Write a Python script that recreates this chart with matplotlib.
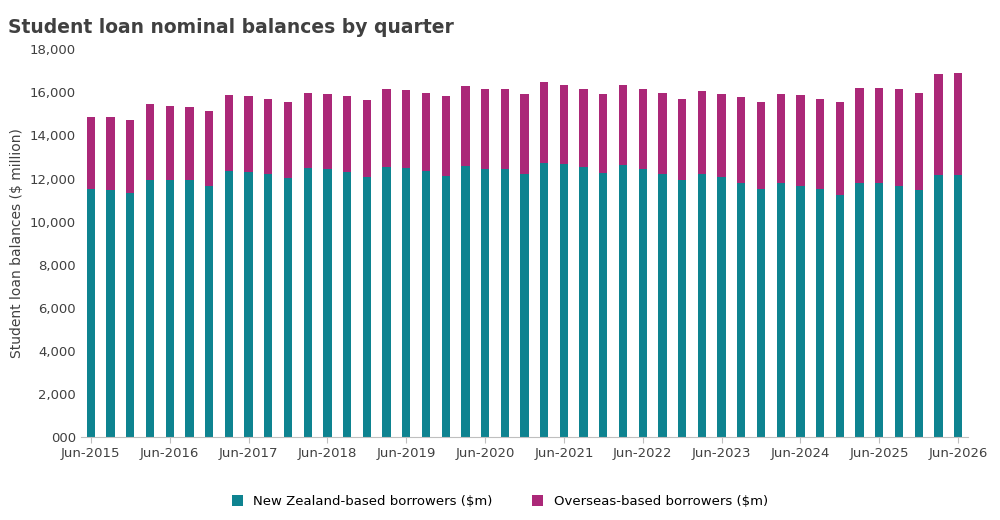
import matplotlib
matplotlib.use("Agg")
import matplotlib.pyplot as plt
import numpy as np

totals = [14.87,14.87,14.71,15.44,15.38,15.32,15.15,15.87,15.83,15.71,15.55,15.98,15.92,15.83,15.64,16.15,16.11,15.98,15.83,16.29,16.15,16.15,15.92,
          16.50,16.34,16.17,15.94,16.34,16.17,15.98,15.71,16.06,15.94,15.78,15.55,15.94,15.87,15.71,15.55,16.22,16.22,16.17,15.98,16.84,16.91]
nz = [11.52,11.46,11.33,11.95,11.91,11.91,11.67,12.34,12.29,12.19,12.03,12.47,12.42,12.29,12.08,12.53,12.47,12.34,12.14,12.57,12.42,12.42,12.23,
      12.73,12.68,12.53,12.26,12.62,12.42,12.22,11.95,12.22,12.06,11.80,11.52,11.80,11.64,11.52,11.22,11.80,11.80,11.64,11.46,12.17,12.17]
nz = [v*1000 for v in nz]
overseas = [t*1000 - n for t, n in zip(totals, nz)]
tick_labels = ["Jun-%d" % y for y in range(2015, 2027)]

teal = "#0e8390"
magenta = "#ab2878"
fig = plt.figure(figsize=(10, 5.2), dpi=100)
ax = fig.add_axes([0.081, 0.16, 0.887, 0.745])
x = np.arange(len(nz))
ax.bar(x, nz, width=0.42, color=teal, label="New Zealand-based borrowers ($m)")
ax.bar(x, overseas, width=0.42, bottom=nz, color=magenta, label="Overseas-based borrowers ($m)")
ax.set_xlim(-0.5, len(nz) - 0.5)
ax.set_ylim(0, 18000)
ax.set_yticks(range(0, 18001, 2000))
ax.set_yticklabels(["000"] + ["{:,}".format(v) for v in range(2000, 18001, 2000)], fontsize=9.5, color="#404040")
ax.set_xticks(x[::4])
ax.set_xticklabels(tick_labels, fontsize=9.5, color="#404040")
ax.tick_params(axis="y", length=0)
ax.tick_params(axis="x", length=4, color="#bfbfbf")
for s in ["top", "right", "left"]:
    ax.spines[s].set_visible(False)
ax.spines["bottom"].set_color("#bfbfbf")
ax.set_ylabel("Student loan balances ($ million)", fontsize=10, color="#404040")
fig.text(0.008, 0.965, "Student loan nominal balances by quarter", fontsize=13.5, fontweight="bold", color="#404040", va="top")
fig.legend(loc="lower center", ncol=2, frameon=False, fontsize=9.5, bbox_to_anchor=(0.5, 0.0),
           handlelength=0.8, handleheight=0.8, columnspacing=3)
fig.savefig("out.png")
